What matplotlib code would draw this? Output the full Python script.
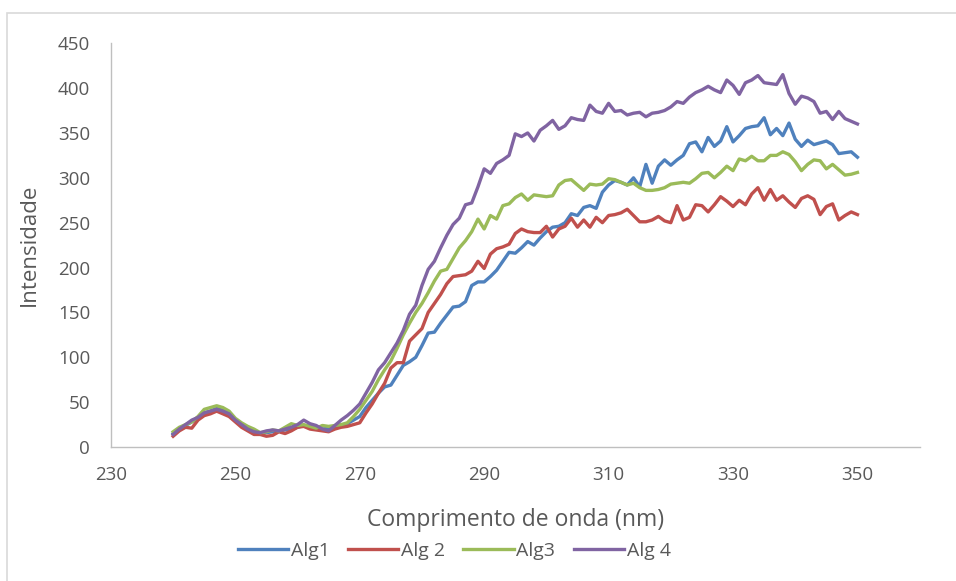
import numpy as np
import matplotlib.pyplot as plt
from matplotlib.patches import Rectangle

plt.rcParams['font.family'] = ['Open Sans', 'DejaVu Sans']

# wavelength grid (nm)
wavelength = np.arange(240, 351)

alg1 = [15, 20, 24, 28, 32, 38, 40, 43, 42, 38,
        30, 24, 20, 16, 15, 16, 17, 18, 19, 20,
        22, 24, 23, 22, 20, 21, 22, 23, 26, 30,
        34, 44, 52, 60, 67, 69, 80, 91, 95, 100,
        113, 127, 128, 138, 147, 156, 157, 162, 180, 184,
        184, 190, 197, 207, 217, 216, 222, 229, 225, 233,
        240, 245, 246, 250, 260, 258, 267, 269, 266, 284,
        292, 297, 295, 292, 300, 290, 315, 294, 313, 320,
        314, 320, 325, 338, 340, 329, 345, 335, 341, 357,
        340, 347, 355, 357, 358, 367, 348, 355, 347, 361,
        343, 335, 342, 337, 339, 341, 337, 327, 328, 329,
        323]

alg2 = [12, 18, 22, 21, 30, 35, 37, 40, 37, 34,
        28, 22, 18, 14, 14, 12, 13, 17, 15, 18,
        22, 23, 20, 19, 18, 17, 20, 22, 23, 25,
        27, 38, 48, 60, 71, 88, 94, 94, 118, 125,
        132, 150, 160, 170, 182, 190, 191, 192, 196, 207,
        199, 215, 221, 223, 226, 238, 243, 240, 239, 239,
        246, 234, 243, 246, 255, 245, 253, 245, 256, 250,
        258, 259, 261, 265, 258, 251, 251, 253, 257, 252,
        250, 269, 253, 256, 270, 269, 262, 270, 279, 274,
        268, 275, 270, 282, 289, 275, 287, 275, 280, 273,
        267, 277, 280, 276, 259, 268, 271, 253, 258, 262,
        259]

alg3 = [17, 22, 25, 28, 34, 42, 44, 46, 44, 40,
        32, 27, 23, 20, 16, 17, 19, 18, 22, 26,
        24, 25, 23, 21, 24, 23, 24, 25, 27, 34,
        42, 52, 62, 75, 86, 96, 110, 125, 138, 150,
        160, 172, 185, 196, 198, 210, 222, 230, 240, 254,
        243, 258, 254, 269, 271, 278, 282, 275, 281, 280,
        279, 280, 292, 297, 298, 292, 286, 293, 292, 293,
        299, 298, 295, 292, 294, 289, 286, 286, 287, 289,
        293, 294, 295, 294, 299, 305, 306, 300, 306, 313,
        308, 321, 319, 324, 319, 319, 325, 325, 329, 326,
        318, 308, 315, 320, 319, 310, 315, 309, 303, 304,
        306]

alg4 = [14, 20, 25, 30, 33, 38, 40, 42, 40, 37,
        30, 25, 20, 17, 16, 18, 19, 18, 20, 22,
        25, 30, 26, 24, 20, 18, 24, 30, 35, 41,
        48, 60, 72, 86, 94, 105, 116, 130, 148, 158,
        180, 198, 207, 222, 236, 248, 255, 270, 272, 290,
        310, 305, 316, 320, 325, 349, 346, 350, 341, 353,
        358, 364, 354, 358, 367, 365, 364, 381, 374, 372,
        383, 374, 375, 370, 372, 373, 368, 372, 373, 375,
        379, 385, 383, 390, 395, 398, 402, 398, 395, 409,
        403, 393, 406, 409, 414, 406, 405, 404, 415, 394,
        382, 391, 389, 385, 372, 374, 365, 374, 366, 363,
        360]

labels = ['Alg1', 'Alg 2', 'Alg3', 'Alg 4']
colors = ['#4F81BD', '#C0504D', '#9BBB59', '#8064A2']

fig = plt.figure(figsize=(9.56, 5.81), dpi=100)
ax = fig.add_axes([0.116, 0.2306, 0.846, 0.695])

for series, lab, col in zip([alg1, alg2, alg3, alg4], labels, colors):
    ax.plot(wavelength, series, color=col, linewidth=2.4, label=lab,
            solid_joinstyle='round')

ax.set_xlim(230, 360)
ax.set_ylim(0, 450)
ax.set_xticks(np.arange(230, 351, 20))
ax.set_yticks(np.arange(0, 451, 50))
ax.tick_params(length=0, labelsize=13.5, colors='#595959')
ax.tick_params(axis='x', pad=14)
ax.tick_params(axis='y', pad=15)

for side in ['top', 'right']:
    ax.spines[side].set_visible(False)
for side in ['left', 'bottom']:
    ax.spines[side].set_color('#BFBFBF')
    ax.spines[side].set_linewidth(1)

ax.set_xlabel('Comprimento de onda (nm)', fontsize=16.5, color='#595959', labelpad=17)
ax.set_ylabel('Intensidade', fontsize=16, color='#595959', labelpad=13)

fig.legend(loc='center', bbox_to_anchor=(0.475, 0.052), ncol=4, frameon=False,
           fontsize=14, labelcolor='#595959', handlelength=2.6,
           handletextpad=0.12, columnspacing=0.95)

# chart area border
fig.patches.append(Rectangle((7 / 956, -0.1), 1.2, 1 - 13 / 581 + 0.1,
                             transform=fig.transFigure, fill=False,
                             edgecolor='#D9D9D9', linewidth=1.2))

fig.savefig('out.png', dpi=100)
